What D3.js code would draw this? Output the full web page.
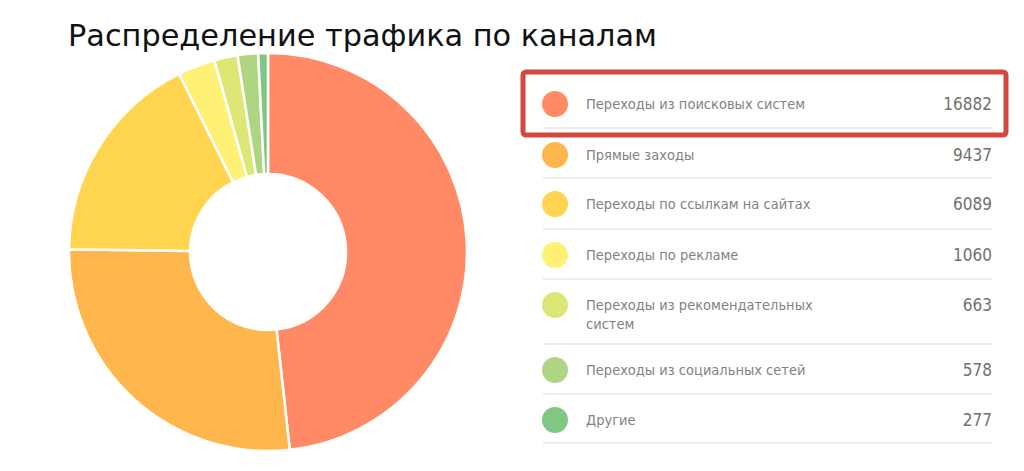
<!DOCTYPE html>
<html><head><meta charset="utf-8">
<script src="https://cdn.jsdelivr.net/npm/d3@7"></script>
<style>html,body{margin:0;padding:0;background:#fff;}svg{display:block;}</style>
</head><body>
<svg id="chart" width="1024" height="471"></svg>
<script>
const title = "Распределение трафика по каналам";
const categories = ["Переходы из поисковых систем","Прямые заходы","Переходы по ссылкам на сайтах","Переходы по рекламе","Переходы из рекомендательных систем","Переходы из социальных сетей","Другие"];
const labelLines = [["Переходы из поисковых систем"],["Прямые заходы"],["Переходы по ссылкам на сайтах"],["Переходы по рекламе"],["Переходы из рекомендательных","систем"],["Переходы из социальных сетей"],["Другие"]];
const values = [16882, 9437, 6089, 1060, 663, 578, 277];
const colors = ["#FF8A65","#FFB74D","#FFD54F","#FFF176","#DCE775","#AED581","#81C784"];

const svg = d3.select("#chart");
svg.append("text").attr("x",68).attr("y",46).attr("font-family","'DejaVu Sans Condensed','DejaVu Sans',sans-serif")
  .attr("font-size",30).attr("fill","#111").attr("textLength",589).attr("lengthAdjust","spacingAndGlyphs").text(title);

const data = categories.map((c,i)=>({c, v:values[i], col:colors[i], lines:labelLines[i]}));
const pie = d3.pie().value(d=>d.v).sort(null);
const arc = d3.arc().innerRadius(78).outerRadius(199);
const g = svg.append("g").attr("transform","translate(268,252)");
g.selectAll("path").data(pie(data)).join("path").attr("d",arc)
  .attr("fill",d=>d.data.col).attr("stroke","#fff").attr("stroke-width",2.5);

// legend
const rowY = [104,155,204,255,305,370,420];
const lineY = [128,178,229,279,344,394,443];
const lg = svg.append("g");
lg.selectAll("line.sep").data(lineY).join("line").attr("class","sep")
  .attr("x1",543).attr("x2",992).attr("y1",d=>d).attr("y2",d=>d).attr("stroke","#e6e6e6").attr("stroke-width",1.5);
const rows = lg.selectAll("g.row").data(data).join("g").attr("class","row")
  .attr("transform",(d,i)=>`translate(0,${rowY[i]})`);
rows.append("circle").attr("cx",555).attr("cy",0).attr("r",13).attr("fill",d=>d.col);
rows.each(function(d){
  const t = d3.select(this).append("text").attr("font-family","'DejaVu Sans Condensed','DejaVu Sans',sans-serif")
    .attr("font-size",14.5).attr("fill","#828282").attr("x",586).attr("y",5);
  d.lines.forEach((l,k)=>t.append("tspan").attr("x",586).attr("dy",k?19:0).text(l));
});
rows.append("text").attr("x",992).attr("y",6).attr("text-anchor","end")
  .attr("font-family","'DejaVu Sans Condensed','DejaVu Sans',sans-serif").attr("font-size",17).attr("fill","#707070").text(d=>d.v);

svg.append("rect").attr("x",523).attr("y",72).attr("width",483).attr("height",63).attr("rx",3)
  .attr("fill","none").attr("stroke","#d3483f").attr("stroke-width",5);
</script>
</body></html>
